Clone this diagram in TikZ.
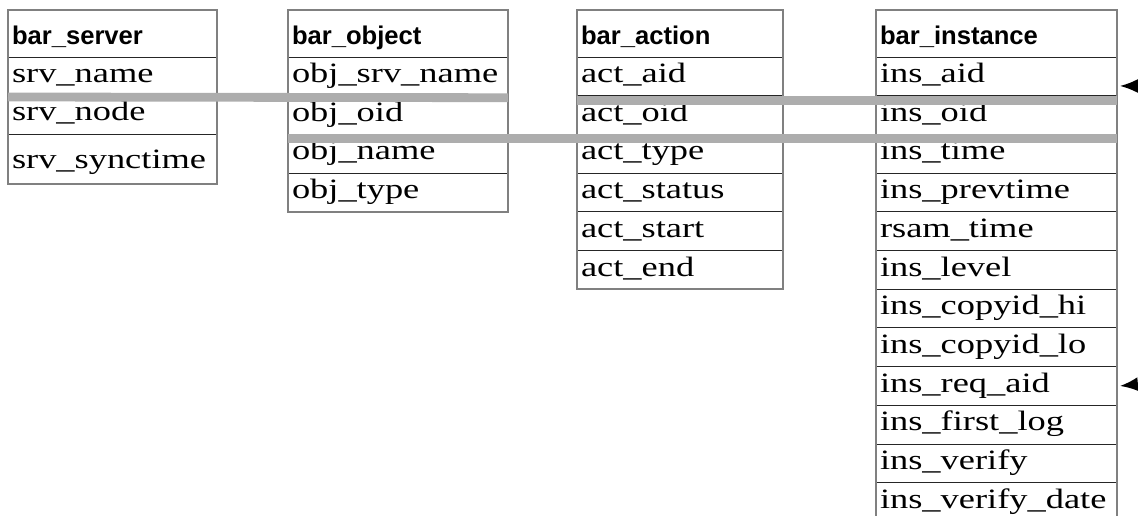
\documentclass[tikz,border=0pt]{standalone}
\usepackage{fontspec}
\setmainfont{Liberation Serif}[FakeStretch=1.3]
\newfontfamily\headfont{Liberation Sans}
\usetikzlibrary{arrows.meta}

\definecolor{joingray}{HTML}{ADADAD}
\definecolor{framegray}{HTML}{808080}

\begin{document}
\begin{tikzpicture}[
    x=0.5pt, y=-0.5pt,
    cell/.style={draw=black!85, line width=0.5pt, fill=white, anchor=north west,
                 outer sep=0pt, inner xsep=2pt, inner ysep=0pt, align=left,
                 minimum height=19.35pt, text height=10pt, text depth=3.85pt,
                 font=\fontsize{14}{16}\selectfont},
    hdcell/.style={cell, minimum height=23.5pt, text height=12pt, text depth=1.5pt,
                   font=\headfont\bfseries\fontsize{12.8}{15}\selectfont},
    tblframe/.style={draw=framegray, line width=1pt},
    joinbar/.style={draw=joingray, line width=4.4pt},
    refarrow/.style={-{Latex[length=9pt,width=7pt]}, thick, black},
]
\useasboundingbox (0,0) rectangle (1138,515);

% bar_server
\node[hdcell, text width=100.5pt] (srv-0) at (8,10) {bar\_server};
\node[cell, text width=100.5pt, minimum height=19pt] (srv-1) at (srv-0.south west) {srv\_name};
\node[cell, text width=100.5pt, minimum height=19.5pt] (srv-2) at (srv-1.south west) {srv\_node};
\node[cell, text width=100.5pt, minimum height=25pt, text depth=1pt] (srv-3) at (srv-2.south west) {srv\_synctime};
\draw[tblframe] (srv-0.north west) rectangle (srv-3.south east);

% bar_object
\node[hdcell, text width=106pt] (obj-0) at (288,10) {bar\_object};
\foreach \f [count=\i, remember=\i as \j (initially 0)] in
    {obj\_srv\_name, obj\_oid, obj\_name, obj\_type}
  \node[cell, text width=106pt] (obj-\i) at (obj-\j.south west) {\f};
\draw[tblframe] (obj-0.north west) rectangle (obj-4.south east);

% bar_action
\node[hdcell, text width=99pt] (act-0) at (577,10) {bar\_action};
\foreach \f [count=\i, remember=\i as \j (initially 0)] in
    {act\_aid, act\_oid, act\_type, act\_status, act\_start, act\_end}
  \node[cell, text width=99pt] (act-\i) at (act-\j.south west) {\f};
\draw[tblframe] (act-0.north west) rectangle (act-6.south east);

% bar_instance
\node[hdcell, text width=116.5pt] (ins-0) at (876,10) {bar\_instance};
\foreach \f [count=\i, remember=\i as \j (initially 0)] in
    {ins\_aid, ins\_oid, ins\_time, ins\_prevtime, rsam\_time, ins\_level,
     ins\_copyid\_hi, ins\_copyid\_lo, ins\_req\_aid, ins\_first\_log,
     ins\_verify, ins\_verify\_date}
  \node[cell, text width=116.5pt] (ins-\i) at (ins-\j.south west) {\f};
\draw[tblframe] (ins-0.north west) rectangle (ins-12.south east);

% join bars
\draw[joinbar] ([yshift=-1pt]srv-1.south west) -- ([yshift=-1pt]obj-1.south east);
\draw[joinbar] ([yshift=-2.3pt]act-1.south west) -- ([yshift=-2.3pt]ins-1.south east);
\draw[joinbar] ([yshift=-1.9pt]obj-2.south west) -- ([yshift=-1.9pt]ins-2.south east);

% incoming references
\coordinate (aidsrc) at (1140,86);
\coordinate (reqsrc) at (1140,384);
\draw[refarrow] (aidsrc) -- ([xshift=1.5pt, yshift=-4.8pt]ins-1.east);
\draw[refarrow] (reqsrc) -- ([xshift=1.5pt]ins-9.east);

\end{tikzpicture}
\end{document}
